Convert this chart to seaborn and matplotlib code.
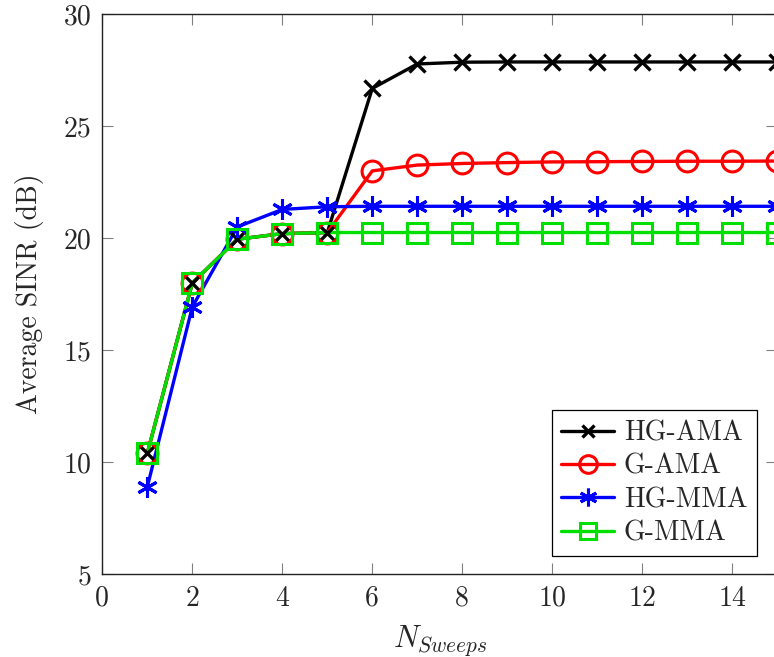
import numpy as np
import pandas as pd
import matplotlib
matplotlib.use("Agg")
import matplotlib.pyplot as plt
from matplotlib.lines import Line2D
import seaborn as sns

# ---- data ----
sweeps = [1, 2, 3, 4, 5, 6, 7, 8, 9, 10, 11, 12, 13, 14, 15]
hg_ama = [10.4, 18.0, 19.95, 20.2, 20.25, 26.68, 27.77, 27.85, 27.86, 27.86, 27.86, 27.86, 27.86, 27.86, 27.86]
g_ama = [10.4, 18.0, 19.95, 20.2, 20.25, 23.0, 23.26, 23.33, 23.37, 23.40, 23.41, 23.42, 23.43, 23.43, 23.44]
hg_mma = [8.9, 16.93, 20.5, 21.28, 21.4, 21.42, 21.42, 21.42, 21.42, 21.42, 21.42, 21.42, 21.42, 21.42, 21.42]
g_mma = [10.4, 18.0, 19.95, 20.2, 20.25, 20.25, 20.25, 20.25, 20.25, 20.25, 20.25, 20.25, 20.25, 20.25, 20.25]
series_names = ["HG-AMA", "G-AMA", "HG-MMA", "G-MMA"]
x_ticks = [0, 2, 4, 6, 8, 10, 12, 14]
y_ticks = [5, 10, 15, 20, 25, 30]

sns.set_theme(style="ticks")
plt.rcParams["font.family"] = ["cmr10", "DejaVu Serif"]
plt.rcParams["mathtext.fontset"] = "cm"
plt.rcParams["axes.formatter.use_mathtext"] = True
plt.rcParams["axes.unicode_minus"] = False

fig = plt.figure(figsize=(7.74, 6.57), dpi=100)
ax = fig.add_axes([102.3 / 774, (657 - 574.3) / 657, (777.3 - 102.3) / 774, (574.3 - 14) / 657])

df = pd.DataFrame({"x": sweeps, "HG-AMA": hg_ama, "G-AMA": g_ama, "HG-MMA": hg_mma, "G-MMA": g_mma})

styles = {
    "HG-AMA": dict(color="black", marker="x", ms=11, mew=2.4),
    "G-AMA": dict(color="#ff0000", marker="o", ms=15, mew=2.2),
    "HG-MMA": dict(color="#0000ff", marker=(6, 2, 0), ms=15, mew=2.2),
    "G-MMA": dict(color="#00e000", marker="s", ms=14, mew=2.2),
}
LW = 2.4
# lines first (in series order), then markers on top
for i, name in enumerate(series_names):
    st = styles[name]
    sns.lineplot(data=df, x="x", y=name, ax=ax, color=st["color"], linewidth=LW,
                 zorder=2 + i, clip_on=False, legend=False)
for i, name in enumerate(series_names):
    st = styles[name]
    sns.lineplot(data=df, x="x", y=name, ax=ax, color=st["color"], linestyle="",
                 marker=st["marker"], markersize=st["ms"], markeredgewidth=st["mew"],
                 markerfacecolor="none", markeredgecolor=st["color"],
                 zorder=10 + i, clip_on=False, legend=False)

ax.set_xlim(0, 15)
ax.set_ylim(5, 30)
ax.set_xticks(x_ticks)
ax.set_yticks(y_ticks)
ax.set_xticklabels([str(t) for t in x_ticks])
ax.set_yticklabels([str(t) for t in y_ticks])
ax.tick_params(direction="in", length=8, width=0.8, color="#808080", labelsize=20,
               top=True, right=True, pad=8)
for s in ax.spines.values():
    s.set_linewidth(1.0)
    s.set_color("#222222")

ax.set_xlabel(r"$N_{Sweeps}$", fontsize=22, labelpad=8)
ax.set_ylabel("Average SINR (dB)", fontsize=20, labelpad=14)

handles = [Line2D([], [], color=styles[n]["color"], linewidth=LW, marker=styles[n]["marker"],
                  markersize=styles[n]["ms"] * 0.85, markeredgewidth=styles[n]["mew"],
                  markerfacecolor="none") for n in series_names]
leg = ax.legend(handles, series_names, loc="lower right", bbox_to_anchor=(757 / 774, (657 - 556) / 657),
                bbox_transform=fig.transFigure, fontsize=20, frameon=True, fancybox=False,
                edgecolor="black", framealpha=1, borderpad=0.35, labelspacing=0.25,
                handlelength=1.9, handletextpad=0.35, borderaxespad=0)
leg.get_frame().set_linewidth(0.9)
leg.set_zorder(20)

fig.savefig("out.png", dpi=100)
